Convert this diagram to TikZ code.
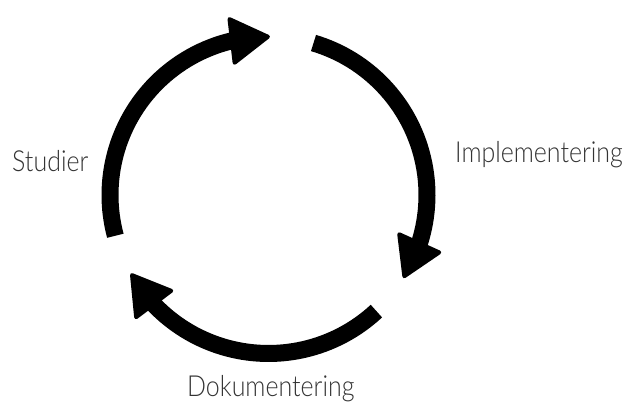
\documentclass[tikz,border=0pt]{standalone}
\usepackage{fontspec}
\setmainfont{Lato}[UprightFont={* Light}, FakeStretch=0.86]
\usetikzlibrary{arrows.meta,bending,calc}
\begin{document}
\begin{tikzpicture}[x=1pt,y=1pt,
  cyclearc/.style={line width=17pt, line cap=butt,
    -{Triangle[length=42pt,width=50pt,line width=4pt,round,flex]}},
  phase/.style={font=\fontsize{29}{32}\selectfont, text=black!80, inner sep=0pt}]
  \useasboundingbox (0,0) rectangle (631,406);
  % centre and radius of the cycle
  \coordinate (c) at (268.5,211);
  \def\R{158.5}
  % start points of the three arcs
  \coordinate (s1) at ($(c)+(194.9:\R)$);
  \coordinate (s2) at ($(c)+(73.5:\R)$);
  \coordinate (s3) at ($(c)+(-47.1:\R)$);
  % clockwise arcs
  \draw[cyclearc] (s1) arc[start angle=194.9, end angle=89.5, radius=\R];
  \draw[cyclearc] (s2) arc[start angle=73.5, end angle=-31.6, radius=\R];
  \draw[cyclearc] (s3) arc[start angle=312.9, end angle=209.7, radius=\R];
  % phase labels
  \node[phase, anchor=base west] (studier) at (12,234) {Studier};
  \node[phase, anchor=base west] (impl) at (455,243) {Implementering};
  \node[phase, anchor=base west] (dok) at (187,9) {Dokumentering};
\end{tikzpicture}
\end{document}
